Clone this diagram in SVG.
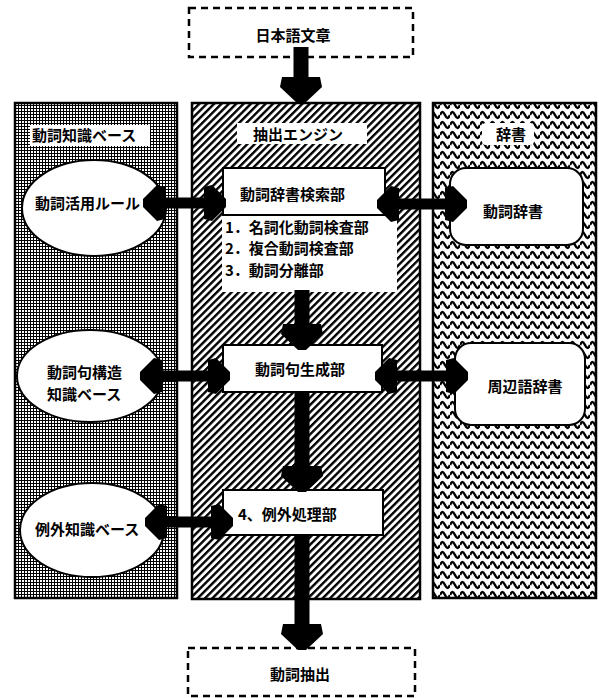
<svg xmlns="http://www.w3.org/2000/svg" width="599" height="698" viewBox="0 0 599 698">
<style>
text{font-family:"Noto Sans CJK JP","Noto Sans CJK SC",sans-serif;font-weight:bold;font-size:15px;fill:#000}
.panel{stroke:#000;stroke-width:2.5}
.box{fill:#fff;stroke:#000;stroke-width:2}
.dash{fill:#fff;stroke:#000;stroke-width:2.5;stroke-dasharray:7 5}
.h{stroke:#000;stroke-width:11;fill:none}
.v{stroke:#000;stroke-width:15;fill:none}
.m{text-anchor:middle}
</style>
<defs>
<pattern id="grid" width="3" height="3" patternUnits="userSpaceOnUse">
<rect width="3" height="3" fill="#fff"/>
<rect width="3" height="1" fill="#000"/>
<rect width="1" height="3" fill="#000"/>
</pattern>
<pattern id="hatch" width="5.2" height="5.2" patternUnits="userSpaceOnUse" patternTransform="rotate(45)">
<rect width="5.2" height="5.2" fill="#fff"/>
<rect width="2.4" height="5.2" fill="#000"/>
</pattern>
<pattern id="wave" width="10" height="10" patternUnits="userSpaceOnUse">
<rect width="10" height="10" fill="#fff"/>
<path d="M0,5 C2,1 3,1 5,5 S8,9 10,5" fill="none" stroke="#000" stroke-width="2.5"/>
</pattern>
<marker id="ah" viewBox="0 -20 24 40" markerWidth="24" markerHeight="40" refX="6" refY="0" orient="auto-start-reverse" markerUnits="userSpaceOnUse">
<path d="M0,-16 L8,-18 L22,-4 L22,4 L8,18 L0,16 Z" fill="#000"/>
</marker>
<marker id="av" viewBox="0 -22 28 44" markerWidth="28" markerHeight="44" refX="6" refY="0" orient="auto" markerUnits="userSpaceOnUse">
<path d="M0,-19 L10,-21 L26,-4 L26,4 L10,21 L0,19 Z" fill="#000"/>
</marker>
</defs>

<g id="panels">
<rect id="kb-panel" class="panel" x="15" y="103" width="162" height="495" fill="url(#grid)"/>
<rect id="engine-panel" class="panel" x="192" y="103" width="228" height="496" fill="url(#hatch)"/>
<rect id="dict-panel" class="panel" x="433" y="103" width="163" height="495" fill="url(#wave)"/>
</g>

<g id="input">
<rect class="dash" x="189" y="8" width="224" height="49"/>
<text x="293" y="41" class="m">日本語文章</text>
</g>

<g id="kb-label">
<rect x="30" y="125" width="120" height="21" fill="#fff"/>
<text x="32" y="141">動詞知識ベース</text>
</g>
<g id="engine-label">
<rect x="237" y="123" width="130" height="21" fill="#fff"/>
<text x="253" y="140">抽出エンジン</text>
</g>
<g id="dict-label">
<rect x="482" y="123" width="52" height="22" rx="4" fill="#fff"/>
<text x="511" y="140" class="m">辞書</text>
</g>

<g id="conj-rule">
<ellipse class="box" cx="94" cy="208" rx="72" ry="48"/>
<text x="35" y="209">動詞活用ルール</text>
</g>
<g id="phrase-kb">
<ellipse class="box" cx="90" cy="376" rx="73" ry="46"/>
<text x="47" y="378">動詞句構造</text>
<text x="47" y="400">知識ベース</text>
</g>
<g id="exception-kb">
<ellipse class="box" cx="92" cy="530" rx="72" ry="47"/>
<text x="35" y="535">例外知識ベース</text>
</g>

<g id="dict-search">
<rect x="222" y="214" width="175" height="78" fill="#fff"/>
<rect class="box" x="223" y="168" width="162" height="47"/>
<text x="240" y="200">動詞辞書検索部</text>
<text x="225" y="233">1．名詞化動詞検査部</text>
<text x="225" y="254">2．複合動詞検査部</text>
<text x="225" y="276">3．動詞分離部</text>
</g>
<g id="phrase-gen">
<rect class="box" x="223" y="345" width="159" height="47"/>
<text x="300" y="375" class="m">動詞句生成部</text>
</g>
<g id="exception-proc">
<rect class="box" x="223" y="490" width="160" height="45"/>
<text x="238" y="520">4、例外処理部</text>
</g>

<g id="verb-dict">
<rect class="box" x="450" y="168" width="133" height="77" rx="16"/>
<text x="513" y="217" class="m">動詞辞書</text>
</g>
<g id="peri-dict">
<rect class="box" x="455" y="343" width="130" height="82" rx="16"/>
<text x="525" y="392" class="m">周辺語辞書</text>
</g>

<g id="output">
<rect class="dash" x="188" y="648" width="227" height="48"/>
<text x="300" y="680" class="m">動詞抽出</text>
</g>

<g id="connectors">
<line class="v" x1="301" y1="47" x2="301" y2="83" marker-end="url(#av)"/>
<line class="v" x1="302" y1="290" x2="302" y2="330" marker-end="url(#av)"/>
<line class="v" x1="302" y1="392" x2="302" y2="472" marker-end="url(#av)"/>
<line class="v" x1="302" y1="535" x2="302" y2="630" marker-end="url(#av)"/>
<line class="h" x1="159" y1="203" x2="210" y2="203" marker-start="url(#ah)" marker-end="url(#ah)"/>
<line class="h" x1="393" y1="204" x2="451" y2="204" marker-start="url(#ah)" marker-end="url(#ah)"/>
<line class="h" x1="156" y1="376" x2="214" y2="376" marker-start="url(#ah)" marker-end="url(#ah)"/>
<line class="h" x1="391" y1="376" x2="452" y2="376" marker-start="url(#ah)" marker-end="url(#ah)"/>
<line class="h" x1="161" y1="522" x2="217" y2="522" marker-start="url(#ah)" marker-end="url(#ah)"/>
</g>
</svg>
